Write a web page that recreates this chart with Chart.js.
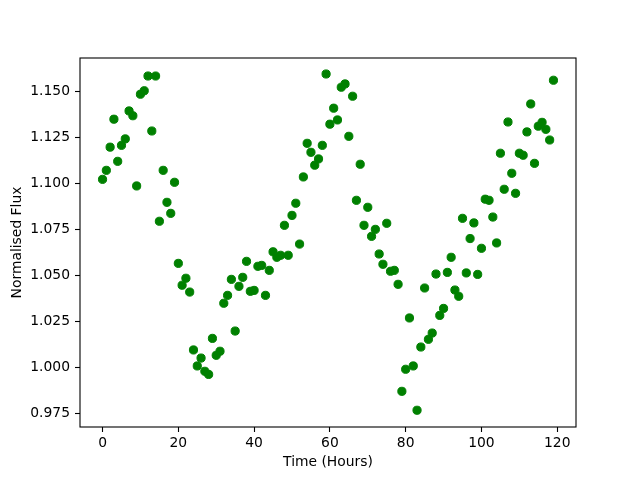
<!DOCTYPE html>
<html>
<head>
<meta charset="utf-8">
<script src="https://cdn.jsdelivr.net/npm/chart.js@4/dist/chart.umd.min.js"></script>
<style>
  body { margin: 0; background: #fff; }
  canvas { display: block; }
</style>
</head>
<body>
<canvas id="flux" width="640" height="480"></canvas>
<script>
/* global Chart */

// hours of each observation
const hours = [
  0, 1, 2, 3, 4, 5, 6, 7, 8, 9, 10, 11, 12, 13, 14, 15, 16, 17, 18, 19,
  20, 21, 22, 23, 24, 25, 26, 27, 28, 29, 30, 31, 32, 33, 34, 35, 36, 37, 38, 39,
  40, 41, 42, 43, 44, 45, 46, 47, 48, 49, 50, 51, 52, 53, 54, 55, 56, 57, 58, 59,
  60, 61, 62, 63, 64, 65, 66, 67, 68, 69, 70, 71, 72, 73, 74, 75, 76, 77, 78, 79,
  80, 81, 82, 83, 84, 85, 86, 87, 88, 89, 90, 91, 92, 93, 94, 95, 96, 97, 98, 99,
  100, 101, 102, 103, 104, 105, 106, 107, 108, 109, 110, 111, 112, 113, 114, 115, 116, 117, 118, 119
]

// normalised flux
const flux = [
  1.1023, 1.1072, 1.1198, 1.1350, 1.1121, 1.1208, 1.1243, 1.1395, 1.1369, 1.0987,
  1.1486, 1.1505, 1.1585, 1.1286, 1.1585, 1.0795, 1.1072, 1.0898, 1.0838, 1.1007,
  1.0566, 1.0447, 1.0485, 1.0410, 1.0095, 1.0008, 1.0051, 0.9979, 0.9962, 1.0158,
  1.0066, 1.0088, 1.0349, 1.0392, 1.0479, 1.0198, 1.0441, 1.0490, 1.0577, 1.0414,
  1.0419, 1.0550, 1.0555, 1.0392, 1.0528, 1.0629, 1.0599, 1.0610, 1.0773, 1.0610,
  1.0827, 1.0893, 1.0671, 1.1036, 1.1219, 1.1170, 1.1100, 1.1134, 1.1208, 1.1596,
  1.1323, 1.1410, 1.1346, 1.1524, 1.1542, 1.1257, 1.1475, 1.0909, 1.1105, 1.0773,
  1.0871, 1.0713, 1.0751, 1.0617, 1.0561, 1.0784, 1.0523, 1.0528, 1.0452, 0.9870,
  0.9990, 1.0269, 1.0008, 0.9767, 1.0111, 1.0432, 1.0153, 1.0187, 1.0508, 1.0283,
  1.0321, 1.0517, 1.0599, 1.0421, 1.0387, 1.0811, 1.0514, 1.0701, 1.0786, 1.0506,
  1.0648, 1.0915, 1.0909, 1.0818, 1.0677, 1.1165, 1.0969, 1.1335, 1.1056, 1.0947,
  1.1165, 1.1154, 1.1281, 1.1433, 1.1110, 1.1312, 1.1333, 1.1295, 1.1237, 1.1562
]

const xTicks = [0, 20, 40, 60, 80, 100, 120]
const yTicks = [0.975, 1.000, 1.025, 1.050, 1.075, 1.100, 1.125, 1.150]

const FONT = { family: 'DejaVu Sans', size: 13.89 }

// matplotlib style box round the axes
const frame = {
  id: 'frame',
  afterDraw (chart) {
    const { ctx, chartArea: a } = chart
    ctx.save()
    ctx.strokeStyle = '#000'
    ctx.lineWidth = 1.1
    ctx.strokeRect(a.left, a.top, a.right - a.left, a.bottom - a.top)
    ctx.restore()
  }
}

const points = hours.map((h, i) => ({ x: h, y: flux[i] }))

new Chart(document.getElementById('flux'), {
  type: 'scatter',
  data: {
    datasets: [{
      data: points,
      backgroundColor: '#008000',
      borderColor: '#008000',
      borderWidth: 1,
      pointRadius: 4.1,
      pointHoverRadius: 4.1
    }]
  },
  options: {
    responsive: false,
    animation: false,
    layout: { padding: { left: 0, top: 58, right: 64, bottom: 0 } },
    plugins: { legend: { display: false }, tooltip: { enabled: false } },
    scales: {
      x: {
        type: 'linear',
        min: -5.95,
        max: 124.95,
        afterBuildTicks: scale => { scale.ticks = xTicks.map(v => ({ value: v })) },
        afterFit: scale => { scale.height = 53 },
        grid: { drawOnChartArea: false, tickLength: 5, color: '#000', tickWidth: 1.1 },
        border: { display: false },
        ticks: { color: '#000', font: FONT, padding: 3, maxRotation: 0, callback: v => String(v) },
        title: { display: true, text: 'Time (Hours)', color: '#000', font: FONT, padding: { top: 0, bottom: 9 } }
      },
      y: {
        type: 'linear',
        min: 0.9676,
        max: 1.1683,
        afterBuildTicks: scale => { scale.ticks = yTicks.map(v => ({ value: v })) },
        afterFit: scale => { scale.width = 80 },
        grid: { drawOnChartArea: false, tickLength: 5, color: '#000', tickWidth: 1.1 },
        border: { display: false },
        ticks: { color: '#000', font: FONT, padding: 5, callback: v => v.toFixed(3) },
        title: { display: true, text: 'Normalised Flux', color: '#000', font: FONT, padding: { top: 9, bottom: 0 } }
      }
    }
  },
  plugins: [frame]
})
</script>
</body>
</html>
